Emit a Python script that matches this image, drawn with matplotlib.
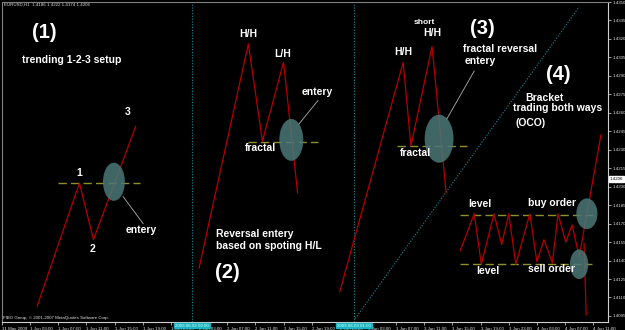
import matplotlib
matplotlib.use("Agg")
import matplotlib.pyplot as plt
from matplotlib.patches import Ellipse

# ---------------- data (x = hours since 31 May 2009 23:00, y = EURUSD price) ----------------
tick_hours = [0, 4, 8, 12, 16, 20, 24, 28, 32, 36, 40, 44, 48, 52, 56, 60, 64, 68, 72, 76, 80, 84]
tick_labels = ["31 May 2009", "1 Jun 03:00", "1 Jun 07:00", "1 Jun 11:00", "1 Jun 15:00",
               "1 Jun 19:00", "1 Jun 23:00", "2 Jun 03:00", "2 Jun 07:00", "2 Jun 11:00",
               "2 Jun 15:00", "2 Jun 19:00", "2 Jun 23:00", "3 Jun 03:00", "3 Jun 07:00",
               "3 Jun 11:00", "3 Jun 15:00", "3 Jun 19:00", "3 Jun 23:00", "4 Jun 03:00",
               "4 Jun 07:00", "4 Jun 11:00"]
price_ticks = [1.4350, 1.4335, 1.4320, 1.4305, 1.4290, 1.4275, 1.4260, 1.4245, 1.4230,
               1.4215, 1.4200, 1.4185, 1.4170, 1.4155, 1.4140, 1.4125, 1.4110, 1.4095]
current_price = 1.4206

# (1) trending 1-2-3 setup
s1_t = [5, 11, 13, 19]
s1_p = [1.4103, 1.4203, 1.4157, 1.4249]
s1_level = 1.4203
s1_level_t = [8, 19.6]

# (2) reversal entry
s2_t = [28, 35, 37, 40, 42]
s2_p = [1.4134, 1.4316, 1.4237, 1.4301, 1.4195]
s2_level = 1.4236
s2_level_t = [35, 44.9]

# (3) fractal reversal
s3_t = [48, 57, 58.1, 61.1, 63.1]
s3_p = [1.4115, 1.4301, 1.4233, 1.4314, 1.4195]
s3_level = 1.4233
s3_level_t = [56.1, 66.1]

# (4) bracket / OCO
s4_t = [65.1, 67.1, 68.1, 69.9, 71.0, 72.0, 73.0, 75.0, 76.0, 77.0, 78.2, 79.0, 80.1, 81.0, 82.0, 85.1]
s4_p = [1.4148, 1.4178, 1.4137, 1.4178, 1.4153, 1.4178, 1.4137, 1.4178, 1.4139, 1.4157,
        1.4138, 1.4178, 1.4155, 1.4169, 1.4143, 1.4242]
s4_drop_t = [82.7, 83.0]
s4_drop_p = [1.4154, 1.4096]
buy_level = 1.4177
buy_level_t = [65.1, 84.5]
sell_level = 1.4137
sell_level_t = [65.1, 83.8]

# vertical separators & diagonal trend line
vlines_t = [27, 50]
vline_labels = ["2009.06.02 02:00", "2009.06.03 01:00"]
trend_t = [50.2, 82.0]
trend_p = [1.4093, 1.4346]

# entry ellipses: centre time, centre price, width (h), height (price)
ell_t = [15.9, 41.1, 62.1, 83.1, 82.0]
ell_p = [1.4204, 1.4238, 1.4239, 1.4178, 1.4137]
ell_w = [3.1, 3.4, 4.1, 3.0, 2.6]
ell_h = [0.0031, 0.0034, 0.0039, 0.0025, 0.0024]

# pointer lines from ellipse to label
ptr_t = [[17.2, 20.05], [42.2, 44.9], [63.2, 67.1]]
ptr_p = [[1.4192, 1.4170], [1.4251, 1.4270], [1.4255, 1.4294]]

# ---------------- figure ----------------
W, H = 625, 330
fig = plt.figure(figsize=(W / 100, H / 100), dpi=100, facecolor="black")
ax = fig.add_axes([2 / W, 8 / H, 606 / W, 320 / H], facecolor="black")
ax.set_xlim(0.02, 86.1)
ax.set_ylim(1.40901, 1.43492)

RED = "#b40000"
OLIVE = "#8f8f2a"
TEAL = "#4b7878"
FONT = "Liberation Sans"

for t, p in [(s1_t, s1_p), (s2_t, s2_p), (s3_t, s3_p), (s4_t, s4_p), (s4_drop_t, s4_drop_p)]:
    ax.plot(t, p, color=RED, lw=0.9, zorder=3)

for lvl, lt in [(s1_level, s1_level_t), (s2_level, s2_level_t), (s3_level, s3_level_t),
                (buy_level, buy_level_t), (sell_level, sell_level_t)]:
    ax.plot(lt, [lvl, lvl], color=OLIVE, lw=1.0, dashes=(6, 3), zorder=2)

for v in vlines_t:
    ax.axvline(v, color="#1e8c9a", lw=0.8, ls=(0, (1, 1.5)), zorder=1)
ax.plot(trend_t, trend_p, color="#1e8c9a", lw=0.8, ls=(0, (1, 1.5)), zorder=1)

for ct, cp, ew, eh in zip(ell_t, ell_p, ell_w, ell_h):
    ax.add_patch(Ellipse((ct, cp), ew, eh, facecolor=TEAL, edgecolor="none", alpha=0.85, zorder=4))

for pt, pp in zip(ptr_t, ptr_p):
    ax.plot(pt, pp, color="#b0b0b0", lw=0.6, zorder=5)

# axes styling
for s in ["left", "top"]:
    ax.spines[s].set_color("#808080")
    ax.spines[s].set_linewidth(0.8)
for s in ["right", "bottom"]:
    ax.spines[s].set_color("#d0d0d0")
    ax.spines[s].set_linewidth(0.8)
ax.yaxis.tick_right()
ax.set_yticks(price_ticks)
ax.set_yticklabels([f"{v:.4f}" for v in price_ticks])
ax.set_xticks(tick_hours)
ax.set_xticklabels(tick_labels, ha="left")
ax.tick_params(axis="both", colors="#e0e0e0", labelsize=3.2, length=2, width=0.5, pad=1)
ax.tick_params(axis="x", pad=1.5)
for lab in ax.get_xticklabels() + ax.get_yticklabels():
    lab.set_fontfamily(FONT)

# current price marker
ax.text(1.003, (current_price - 1.40901) / (1.43492 - 1.40901), f"{current_price:.4f}",
        transform=ax.transAxes, fontsize=3.2, family=FONT, color="black", va="center", ha="left",
        bbox=dict(boxstyle="square,pad=0.15", fc="white", ec="white"), clip_on=False)

# vertical line labels on time axis
for v, lab in zip(vlines_t, vline_labels):
    ax.text(v, -0.005, lab, transform=ax.get_xaxis_transform(), fontsize=3.2, family=FONT,
            color="#e0ffff", ha="center", va="top",
            bbox=dict(boxstyle="square,pad=0.15", fc="#18b4c0", ec="#18b4c0"), zorder=10, clip_on=False)


def txt(x, y, s, size=7.5, ha="left", **kw):
    fig.text(x / W, 1 - y / H, s, fontsize=size, ha=ha, va="center", color="white",
             family=FONT, fontweight="bold", **kw)


# header & footer
fig.text(4 / W, 1 - 4.5 / H, "EURUSD,H1  1.4186 1.4222 1.4174 1.4206", fontsize=3.2,
         family=FONT, color="#e0e0e0", va="center")
fig.text(3 / W, 1 - 318.5 / H, "FIBO Group, \u00a9 2001-2007 MetaQuotes Software Corp.",
         fontsize=3.2, family=FONT, color="#e0e0e0", va="center")

BIG = 14.5
# section 1
txt(44, 32, "(1)", BIG, ha="center")
txt(22, 60, "trending 1-2-3 setup")
txt(79, 173, "1", ha="center")
txt(93, 249, "2", ha="center")
txt(128, 112, "3", ha="center")
txt(126, 230, "entery")
# section 2
txt(248, 34, "H/H", ha="center")
txt(283, 54, "L/H", ha="center")
txt(302, 92, "entery")
txt(245, 148, "fractal")
txt(216, 234, "Reversal entery")
txt(216, 246, "based on spoting H/L")
txt(227, 273, "(2)", BIG, ha="center")
# section 3
txt(482, 28, "(3)", BIG, ha="center")
txt(424, 22, "short", 6, ha="center")
txt(432, 33, "H/H", ha="center")
txt(403, 52, "H/H", ha="center")
txt(416, 153, "fractal", ha="center")
txt(463, 49, "fractal reversal")
txt(465, 61, "entery")
# section 4
txt(558, 75, "(4)", BIG, ha="center")
txt(525, 98, "Bracket")
txt(513, 108, "trading both ways")
txt(515, 123, "(OCO)")
txt(468, 204, "level")
txt(528, 203, "buy order")
txt(476, 271, "level")
txt(528, 269, "sell order")

fig.savefig("out.png", dpi=100, facecolor="black")
